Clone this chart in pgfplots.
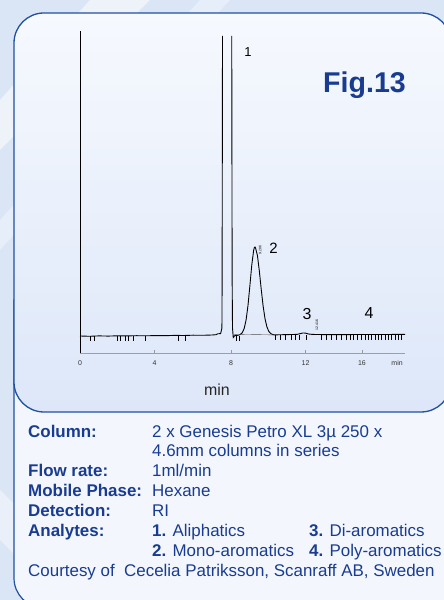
\documentclass[border=0pt]{standalone}
\usepackage{pgfplots}
\pgfplotsset{compat=1.18}
\usepackage{fontspec}
\setmainfont{Liberation Sans}
\definecolor{bgblue}{RGB}{218,229,246}
\definecolor{panelborder}{RGB}{32,80,160}
\definecolor{txtblue}{RGB}{25,60,145}
\definecolor{paneltop}{RGB}{246,249,254}
\definecolor{panelbot}{RGB}{221,231,249}
\definecolor{textbg}{RGB}{243,247,253}
\begin{document}
\begin{tikzpicture}[x=1bp,y=1bp]
\useasboundingbox (0,0) rectangle (444,600);
\clip (0,0) rectangle (444,600);
\fill[bgblue] (0,0) rectangle (444,600);
% soft white streaks
\fill[white,opacity=0.55] (0,500) -- (90,600) -- (150,600) -- (0,450) -- cycle;
\fill[white,opacity=0.35] (0,380) -- (200,600) -- (230,600) -- (0,350) -- cycle;
\fill[white,opacity=0.45] (0,60) -- (60,0) -- (110,0) -- (0,110) -- cycle;
% lower outer frame
\draw[panelborder, line width=1.2bp, fill=textbg] (14,300) -- (14,22) arc[start angle=180, end angle=270, radius=30] -- (470,-8) -- (470,300) -- cycle;
% panel
\shade[top color=paneltop, bottom color=panelbot, rounded corners=30bp] (14,188) rectangle (451,587);
\draw[panelborder, line width=1.3bp, rounded corners=30bp] (14,188) rectangle (451,587);

\begin{axis}[
  at={(80bp,247bp)}, anchor=south west,
  scale only axis, width=325bp, height=322bp,
  xmin=0, xmax=17.22, ymin=-17, ymax=305,
  axis x line=bottom, axis y line=left, axis line style={-},
  x axis line style={gray!75, line width=0.6bp},
  y axis line style={black, line width=0.8bp},
  ytick=\empty,
  xtick={0,3.95,8,11.95,14.94}, xticklabels={0,4,8,12,16},
  extra x ticks={16.8}, extra x tick labels={min},
  extra x tick style={major tick length=0pt},
  tick align=inside, major tick length=3bp,
  xtick style={gray!80, line width=0.5bp},
  ticklabel style={font=\fontsize{7}{8}\selectfont, text=black!80},
  xticklabel style={yshift=-4bp},
  /pgf/number format/assume math mode=true,
  unbounded coords=jump,
  clip=false,
]
% chromatogram trace
\addplot[black, line width=0.9bp, no markers] coordinates {
(0,0) (0.5,-0.3) (1,0.1) (1.5,-0.1) (2,0.2) (2.5,0.1) (3,0.3) (3.5,0.2) (4,0.4) (4.5,0.3) (5,0.6) (5.5,0.5) (6,0.8) (6.5,0.7) (7,1) (7.2,1.3) (7.3,2.2) (7.45,2.4) (7.52,8) (7.53,60) (7.55,300)
(7.8,nan)
(8.04,300) (8.06,60) (8.08,8) (8.12,-1.5) (8.2,0.3) (8.3,0.6) (8.4,0.8) (8.5,1.6)
(8.6,3.4) (8.7,7.5) (8.8,16) (8.9,30.4) (9.0,50) (9.1,70.8) (9.2,85.6) (9.24,88.5) (9.27,89) (9.3,88.2)
(9.4,80.6) (9.5,65.3) (9.6,47.1) (9.7,30.3) (9.8,17.5) (9.9,9.3) (10.0,4.7) (10.1,2.5) (10.2,1.5) (10.3,1.1)
(10.5,1.2) (11,1.4) (11.5,1.6) (11.65,2.3) (11.8,3.0) (11.95,2.9) (12.1,2.0) (12.3,1.6) (12.5,1.5)
(13,1.4) (14,1.4) (15,1.5) (16,1.5) (17.22,1.6)
};
% integration baseline under peak 2
\addplot[black!70, line width=0.4bp, no markers] coordinates {(8.1,1.2) (8.5,1.6) (10.3,1.1)};
% event marks
\addplot[only marks, mark=|, mark size=2.5, black, line width=0.6bp] coordinates {
(0.565,-2.5) (0.76,-2.5) (1.98,-2.5) (2.15,-2.5) (2.38,-2.5) (2.56,-2.5) (2.83,-2.5) (3.44,-2.5)
(5.21,-2.5) (5.56,-2.5) (8.26,-2.5) (8.44,-2.5)
(10.33,-1.5) (10.6,-1.5) (10.86,-1.5) (11.18,-1.5) (11.39,-1.5) (11.62,-1.5) (12.01,-1.5)
(12.8,-1.5) (13.07,-1.5) (13.33,-1.5) (13.6,-1.5) (13.86,-1.5) (14.09,-1.5) (14.3,-1.5) (14.48,-1.5)
(14.71,-1.5) (14.92,-1.5) (15.1,-1.5) (15.27,-1.5) (15.45,-1.5) (15.63,-1.5) (15.81,-1.5) (15.98,-1.5)
(16.16,-1.5) (16.33,-1.5) (16.51,-1.5) (16.69,-1.5) (16.86,-1.5) (17.04,-1.5)
};
% peak labels
\node[font=\fontsize{13}{14}\selectfont, inner sep=0] at (axis cs:8.9,284) {1};
\node[font=\fontsize{15}{16}\selectfont, inner sep=0] at (axis cs:10.25,88) {2};
\node[font=\fontsize{16}{17}\selectfont, inner sep=0] at (axis cs:12.03,22) {3};
\node[font=\fontsize{16}{17}\selectfont, inner sep=0] at (axis cs:15.31,23) {4};
\node[font=\fontsize{3.5}{4}\selectfont, rotate=90, inner sep=0] at (axis cs:9.55,86) {9.286};
\node[font=\fontsize{3.5}{4}\selectfont, rotate=90, inner sep=0] at (axis cs:12.55,11) {12.416};
\end{axis}

\node[font=\fontsize{16}{18}\selectfont, text=black!85] at (217,210) {min};
\node[anchor=base west, inner sep=0, font=\bfseries\fontsize{28.7}{30}\selectfont, text=txtblue] at (323,507) {Fig.13};

\begin{scope}[every node/.style={anchor=base west, inner sep=0, font=\fontsize{17}{20}\selectfont, text=txtblue}]
\node at (28,162.5) {\textbf{Column:}};
\node at (152,162.5) {2 x Genesis Petro XL 3µ 250 x};
\node at (152,143) {4.6mm columns in series};
\node at (28,123) {\textbf{Flow rate:}};
\node at (152,123) {1ml/min};
\node at (28,103) {\textbf{Mobile Phase:}};
\node at (152,103) {Hexane};
\node at (28,83) {\textbf{Detection:}};
\node at (152,83) {RI};
\node at (28,63) {\textbf{Analytes:}};
\node at (152,63) {\textbf{1.} Aliphatics};
\node at (309,63) {\textbf{3.} Di-aromatics};
\node at (152,43) {\textbf{2.} Mono-aromatics};
\node at (309,43) {\textbf{4.} Poly-aromatics};
\node at (28,23) {Courtesy of\ \ Cecelia Patriksson, Scanraff AB, Sweden};
\end{scope}
\end{tikzpicture}
\end{document}
